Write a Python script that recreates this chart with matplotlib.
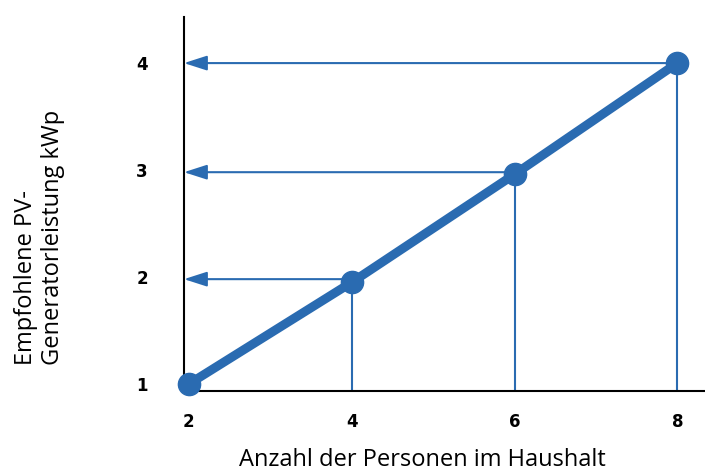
import matplotlib
matplotlib.use('Agg')
import matplotlib.pyplot as plt

# data
persons = [2, 4, 6, 8]
power_kwp = [1, 1.95, 2.96, 4]
arrow_levels = [1.98, 2.98, 4]
x_ticks = [2, 4, 6, 8]
y_ticks = [1, 2, 3, 4]

blue = '#2a6bb1'

fig = plt.figure(figsize=(7.05, 4.75), dpi=100)
ax = fig.add_axes([0.261, 0.177, 0.739, 0.787])

# guide lines: vertical drop lines and arrows to the y axis
for x, y in zip(persons, power_kwp):
    if x > persons[0]:
        ax.plot([x, x], [0.935, y], color=blue, lw=1.5, zorder=2)
for x, y in zip(persons[1:], arrow_levels):
    ax.annotate('', xy=(1.94, y), xytext=(x, y),
                arrowprops=dict(arrowstyle='-|>,head_length=14,head_width=4.5',
                                mutation_scale=1, color=blue, lw=1.5,
                                shrinkA=0, shrinkB=0),
                zorder=2)

ax.plot(persons, power_kwp, color=blue, lw=6.5, marker='o', markersize=16,
        solid_capstyle='round', zorder=3, clip_on=False)

ax.set_xlim(1.94, 8.34)
ax.set_ylim(0.935, 4.43)
ax.set_xticks(x_ticks)
ax.set_yticks(y_ticks)
ax.set_xticklabels([str(v) for v in x_ticks], fontweight='bold', fontsize=12,
                   family='DejaVu Sans')
ax.set_yticklabels([str(v) for v in y_ticks], fontweight='bold', fontsize=12,
                   family='DejaVu Sans')
ax.tick_params(length=0, pad=0)
ax.tick_params(axis='x', pad=16)
ax.tick_params(axis='y', pad=26)

for s in ['top', 'right']:
    ax.spines[s].set_visible(False)
ax.spines['left'].set_linewidth(1.5)
ax.spines['bottom'].set_linewidth(1.5)

ax.set_xlabel('Anzahl der Personen im Haushalt', fontsize=17,
              family='Open Sans')
ax.xaxis.set_label_coords(0.457, -0.152)
ax.set_ylabel('Empfohlene PV-\nGeneratorleistung kWp', fontsize=17,
              family='Open Sans', multialignment='left')
ax.yaxis.set_label_coords(-0.228, 0.41)

plt.savefig('out.png', dpi=100)
